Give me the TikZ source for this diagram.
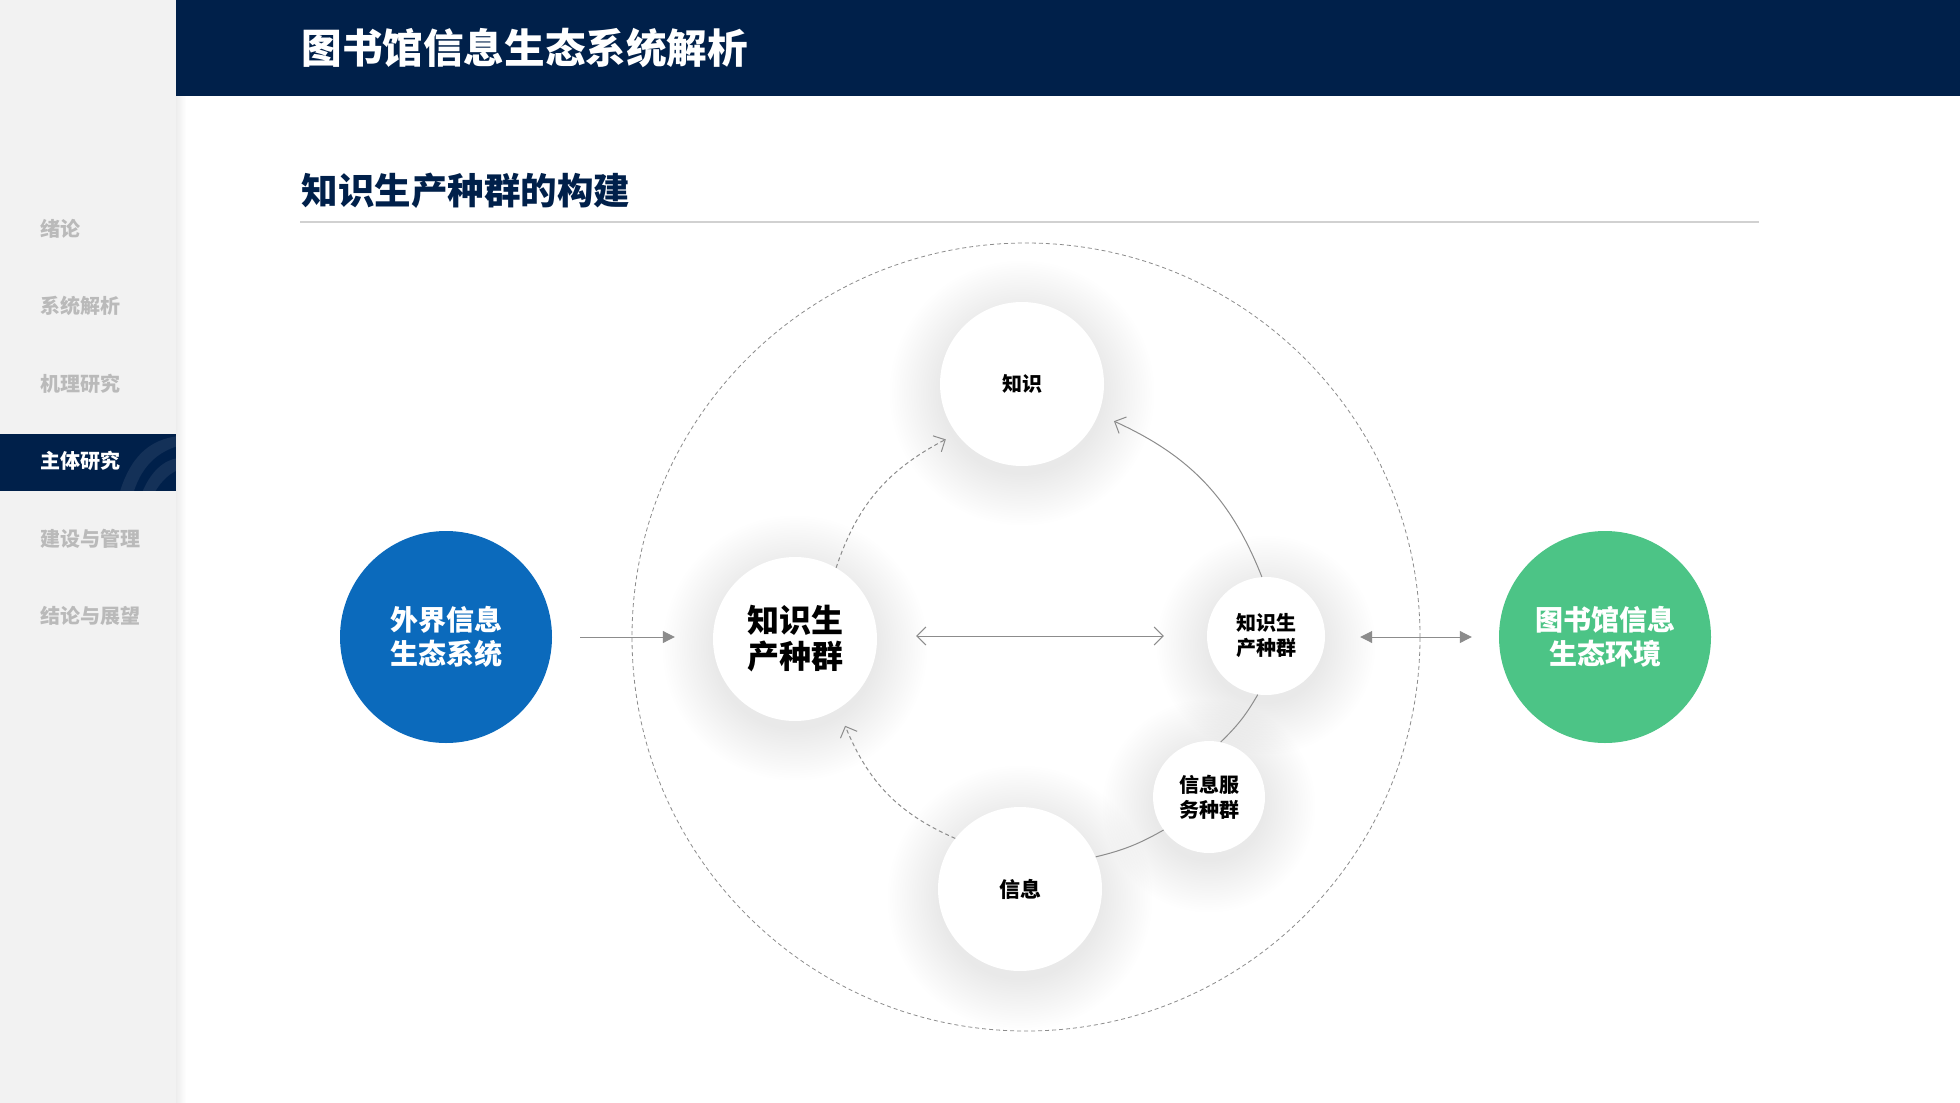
\documentclass[tikz,border=0pt]{standalone}
\usepackage{fontspec}
\newfontfamily\cjk{Noto Sans CJK SC}
\usetikzlibrary{positioning,arrows.meta}
\definecolor{navy}{RGB}{0,32,74}
\definecolor{sidegray}{RGB}{242,242,242}
\definecolor{blueA}{RGB}{11,106,188}
\definecolor{greenA}{RGB}{76,196,134}
\definecolor{linegray}{RGB}{140,140,140}
\newcommand{\sz}[1]{\fontsize{#1}{#1}\selectfont}
% soft shadow behind a bubble: centre, radius
\newcommand{\halo}[2]{%
  \foreach \k in {0,...,21}{%
    \fill[black, opacity=0.0048, shift={(0,9)}] #1 circle[radius={(#2+2.4*\k)*1pt}];}}

\tikzset{
  bubble/.style={circle, fill=white, inner sep=0pt, align=center,
    font=\cjk\bfseries, text=black},
  disc/.style={circle, minimum size=212pt, inner sep=0pt, align=center,
    text=white, font=\cjk\bfseries\fontsize{28}{34}\selectfont},
  menu/.style={anchor=west, text=black!27, font=\cjk\bfseries\sz{20}},
  flow/.style={draw=linegray, line width=1pt},
  openhead/.style={flow, -{Straight Barb[length=9pt,width=18pt]}},
  ringdash/.style={dash pattern=on 4pt off 3pt},
}

\begin{document}
\begin{tikzpicture}[x=1pt,y=-1pt]
\useasboundingbox (0,0) rectangle (1960,1103);
\fill[white] (0,0) rectangle (1960,1103);
% side bar and header
\fill[sidegray] (0,0) rectangle (176,1103);
\shade[left color=black!7, right color=white] (176,96) rectangle (186,1103);
\fill[navy] (176,0) rectangle (1960,96);
\fill[navy] (0,434) rectangle (176,491);
\begin{scope}
\clip (0,434) rectangle (176,491);
\fill[white,opacity=0.08] (118,498) .. controls (130,455) and (150,440) .. (178,436)
  -- (178,446) .. controls (158,452) and (140,466) .. (132,498) -- cycle;
\fill[white,opacity=0.08] (140,498) .. controls (150,470) and (165,460) .. (178,458)
  -- (178,470) .. controls (168,474) and (158,484) .. (152,498) -- cycle;
\end{scope}
\node[menu] (m1) at (37,229) {绪论};
\node[menu] (m2) at (37,306) {系统解析};
\node[menu] (m3) at (37,384) {机理研究};
\node[menu, text=white] (m4) at (37,461) {主体研究};
\node[menu] (m5) at (37,539) {建设与管理};
\node[menu] (m6) at (37,616) {结论与展望};

\node[anchor=west, text=white, font=\cjk\bfseries\sz{40.6}] (title) at (298,48) {图书馆信息生态系统解析};
\node[anchor=west, text=navy, font=\cjk\bfseries\sz{36.5}] (sec) at (298,191) {知识生产种群的构建};
\draw[black!18, line width=1.5pt] (300,222) -- (1759,222);

% shadows under the white bubbles
\halo{(795,639)}{82}
\halo{(1022,384)}{82}
\halo{(1266,636)}{59}
\halo{(1209,797)}{56}
\halo{(1020,889)}{82}

% outer ring
\draw[linegray, ringdash, line width=0.8pt] (1026,637) circle[radius=394pt];

% circles
\node[disc, fill=blueA] (ext) at (446,637) {外界信息\\生态系统};
\node[disc, fill=greenA] (env) at (1605,637) {图书馆信息\\生态环境};
\node[bubble, minimum size=164pt, font=\cjk\bfseries\fontsize{32}{36}\selectfont] (kp) at (795,639) {知识生\\产种群};
\node[bubble, minimum size=164pt, font=\cjk\bfseries\sz{20}] (zs) at (1022,384) {知识};
\node[bubble, minimum size=118pt, font=\cjk\bfseries\fontsize{20}{25}\selectfont] (kq) at (1266,636) {知识生\\产种群};
\node[bubble, minimum size=112pt, font=\cjk\bfseries\fontsize{20}{25}\selectfont] (sv) at (1209,797) {信息服\\务种群};
\node[bubble, minimum size=164pt, font=\cjk\bfseries\sz{21}] (xx) at (1020,889) {信息};

% straight arrows
\draw[flow, -{Triangle[length=12pt,width=12pt]}] ([xshift=28pt]ext.east) -- ([xshift=-38pt,yshift=2pt]kp.west);
\draw[flow, {Straight Barb[length=9pt,width=18pt]}-{Straight Barb[length=9pt,width=18pt]}] ([xshift=39pt,yshift=3pt]kp.east) -- ([xshift=-43pt]kq.west);
\draw[flow, {Triangle[length=12pt,width=12pt]}-{Triangle[length=12pt,width=12pt]}] ([xshift=35pt,yshift=-1pt]kq.east) -- ([xshift=-27pt]env.west);

% cycle arcs
\draw[openhead, ringdash] (kp.60) to[bend left=22] ([shift={(216:12pt)}]zs.216);
\draw[openhead] (kq.94) to[bend right=22] ([shift={(338:17pt)}]zs.338);
\draw[openhead, ringdash] (xx.142) to[bend left=22] ([shift={(300:18pt)}]kp.300);
\draw[flow] (kq.262) to[bend left=8] (sv.78);
\draw[flow] (sv.216) to[bend left=8] (xx.23);
\end{tikzpicture}
\end{document}
